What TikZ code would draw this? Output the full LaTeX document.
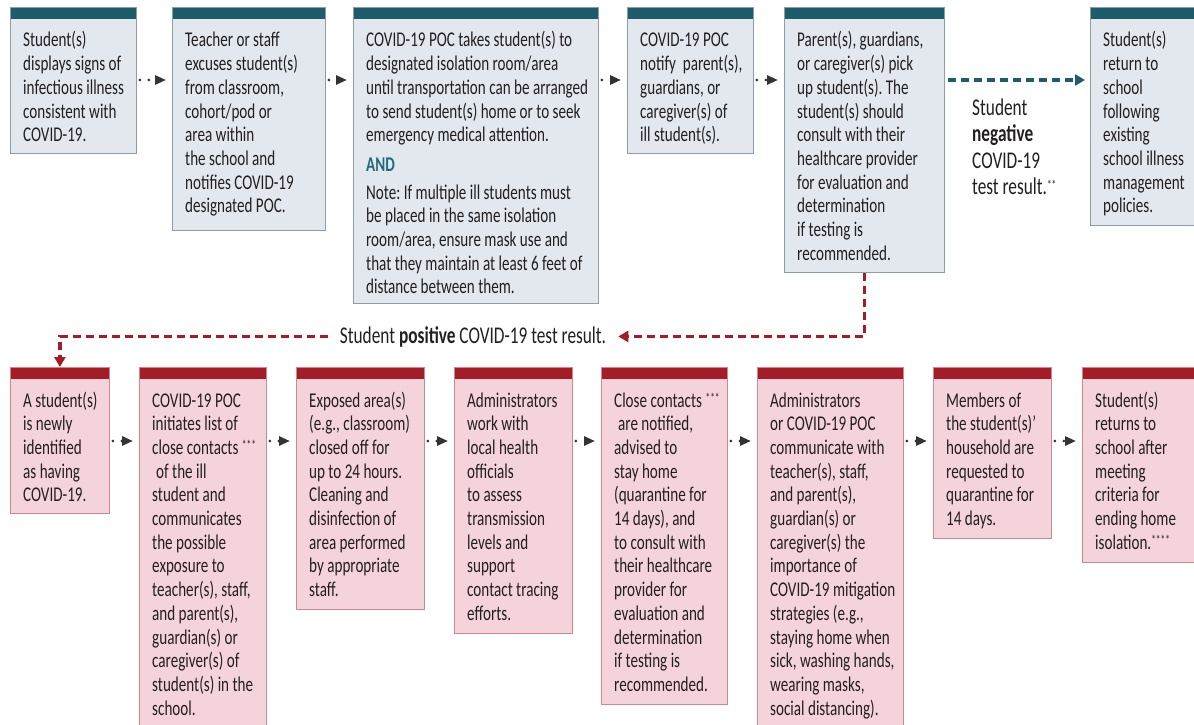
\documentclass[tikz,border=0pt]{standalone}
\usepackage{fontspec}
\setmainfont{Carlito}[FakeStretch=0.72]
\usetikzlibrary{arrows.meta,calc}
\definecolor{bluehead}{HTML}{1D5C6B}
\definecolor{bluefill}{HTML}{E2E8ED}
\definecolor{blueline}{HTML}{8C9DA7}
\definecolor{redhead}{HTML}{A61C26}
\definecolor{redfill}{HTML}{F4D4DA}
\definecolor{redline}{HTML}{CC8790}
\definecolor{ink}{HTML}{231F20}
\definecolor{dotgray}{HTML}{333333}
\definecolor{andteal}{HTML}{1F6B80}
\newcommand{\stars}[1]{\raisebox{5pt}{\fontsize{13}{13}\selectfont#1}}
\frenchspacing

\begin{document}
\begin{tikzpicture}[x=1pt,y=-1pt,
    card/.style={draw=#1line, fill=#1fill, line width=0.8pt, anchor=north west, inner sep=0pt,
      path picture={\fill[#1head] (path picture bounding box.north west) rectangle ([yshift=-12pt]path picture bounding box.north east);}},
    txt/.style={anchor=base west, align=flush left, text width=260pt, inner sep=0pt, text=ink, font=\fontsize{21}{23.7}\selectfont},
    lbl/.style={inner xsep=12pt, inner ysep=0pt, text=ink, font=\fontsize{24}{26.6}\selectfont},
    flow/.style={draw=dotgray, line width=3pt, line cap=round, dash pattern=on 0pt off 9pt, shorten <=3pt, shorten >=6pt, -{Triangle[length=11pt,width=9pt]}},
    negflow/.style={draw=bluehead, line width=3.4pt, dash pattern=on 8pt off 5pt, shorten <=3pt, shorten >=5pt, -{Triangle[length=10pt,width=11pt]}},
    posflow/.style={draw=redhead, line width=3.4pt, dash pattern=on 8pt off 5pt, -{Triangle[length=10pt,width=11pt]}}]
  \path[use as bounding box, fill=white] (0,0) rectangle (1194,725);

  % top row: ill student
  \node[card=blue, minimum width=126pt, minimum height=146pt] (t1) at (10,7) {};
  \node[card=blue, minimum width=153pt, minimum height=223pt] (t2) at (172,7) {};
  \node[card=blue, minimum width=245pt, minimum height=296pt] (t3) at (353,7) {};
  \node[card=blue, minimum width=126pt, minimum height=146pt] (t4) at (627,7) {};
  \node[card=blue, minimum width=160pt, minimum height=265pt] (t5) at (784,7) {};
  \node[card=blue, minimum width=120pt, minimum height=218pt] (t6) at (1090,7) {};

  \node[txt] (t1x) at ($(t1.north west)+(13,40)$) {Student(s)\\displays signs of\\infectious illness\\consistent with\\COVID-19.};
  \node[txt] (t2x) at ($(t2.north west)+(13,40)$) {Teacher or staff\\excuses student(s)\\from classroom,\\cohort/pod or\\area within\\the school and\\notifies COVID-19\\designated POC.};
  \node[txt] (t3x) at ($(t3.north west)+(13,40)$) {COVID-19 POC takes student(s) to\\designated isolation room/area\\until transportation can be arranged\\to send student(s) home or to seek\\emergency medical attention.\\[6pt]
    {\color{andteal}\bfseries AND}\\[4pt]
    Note: If multiple ill students must\\be placed in the same isolation\\room/area, ensure mask use and\\that they maintain at least 6 feet of\\distance between them.};
  \node[txt] (t4x) at ($(t4.north west)+(13,40)$) {COVID-19 POC\\notify\ \ parent(s),\\guardians, or\\caregiver(s) of\\ill student(s).};
  \node[txt] (t5x) at ($(t5.north west)+(13,40)$) {Parent(s), guardians,\\or caregiver(s) pick\\up student(s). The\\student(s) should\\consult with their\\healthcare provider\\for evaluation and\\determination\\if testing is\\recommended.};
  \node[txt] (t6x) at ($(t6.north west)+(13,40)$) {Student(s)\\return to\\school\\following\\existing\\school illness\\management\\policies.};

  % bottom row: positive result
  \node[card=red, minimum width=99pt, minimum height=146pt] (r1) at (10,367) {};
  \node[card=red, minimum width=127pt, minimum height=370pt] (r2) at (139,367) {};
  \node[card=red, minimum width=128pt, minimum height=242pt] (r3) at (296,367) {};
  \node[card=red, minimum width=118pt, minimum height=266pt] (r4) at (454,367) {};
  \node[card=red, minimum width=126pt, minimum height=337pt] (r5) at (601,367) {};
  \node[card=red, minimum width=146pt, minimum height=370pt] (r6) at (757,367) {};
  \node[card=red, minimum width=118pt, minimum height=171pt] (r7) at (933,367) {};
  \node[card=red, minimum width=120pt, minimum height=195pt] (r8) at (1082,367) {};

  \node[txt] (r1x) at ($(r1.north west)+(13,40)$) {A student(s)\\is newly\\identified\\as having\\COVID-19.};
  \node[txt] (r2x) at ($(r2.north west)+(13,40)$) {COVID-19 POC\\initiates list of\\close contacts\,\stars{***}\\\hspace*{4pt}of the ill\\student and\\communicates\\the possible\\exposure to\\teacher(s), staff,\\and parent(s),\\guardian(s) or\\caregiver(s) of\\student(s) in the\\school.};
  \node[txt] (r3x) at ($(r3.north west)+(13,40)$) {Exposed area(s)\\(e.g., classroom)\\closed off for\\up to 24 hours.\\Cleaning and\\disinfection of\\area performed\\by appropriate\\staff.};
  \node[txt] (r4x) at ($(r4.north west)+(13,40)$) {Administrators\\work with\\local health\\officials\\to assess\\transmission\\levels and\\support\\contact tracing\\efforts.};
  \node[txt] (r5x) at ($(r5.north west)+(13,40)$) {Close contacts\,\stars{***}\\\hspace*{4pt}are notified,\\advised to\\stay home\\(quarantine for\\14 days), and\\to consult with\\their healthcare\\provider for\\evaluation and\\determination\\if testing is\\recommended.};
  \node[txt] (r6x) at ($(r6.north west)+(13,40)$) {Administrators\\or COVID-19 POC\\communicate with\\teacher(s), staff,\\and parent(s),\\guardian(s) or\\caregiver(s) the\\importance of\\COVID-19 mitigation\\strategies (e.g.,\\staying home when\\sick, washing hands,\\wearing masks,\\social distancing).};
  \node[txt] (r7x) at ($(r7.north west)+(13,40)$) {Members of\\the student(s)’\\household are\\requested to\\quarantine for\\14 days.};
  \node[txt] (r8x) at ($(r8.north west)+(13,40)$) {Student(s)\\returns to\\school after\\meeting\\criteria for\\ending home\\isolation.\stars{****}};

  % test result labels
  \node[lbl, anchor=base west, align=flush left, text width=110pt, inner sep=0pt] (neg) at (972,115) {Student\\\textbf{negative}\\COVID-19\\test result.\stars{**}};
  \node[lbl, anchor=base] (pos) at (473,343) {Student \textbf{positive} COVID-19 test result.};

  % steps
  \foreach \a/\b in {t1/t2,t2/t3,t3/t4,t4/t5}
    \draw[flow] ([yshift=-73pt]\a.north east) -- ([yshift=-73pt]\b.north west);
  \foreach \a/\b in {r1/r2,r2/r3,r3/r4,r4/r5,r5/r6,r6/r7,r7/r8}
    \draw[flow] ([yshift=-74pt]\a.north east) -- ([yshift=-74pt]\b.north west);

  % results
  \draw[negflow] ([yshift=-73pt]t5.north east) -- ([yshift=-73pt]t6.north west);
  \draw[posflow] (t5.south) |- (pos.east);
  \draw[posflow] (pos.west) -| (r1.north);
\end{tikzpicture}
\end{document}
